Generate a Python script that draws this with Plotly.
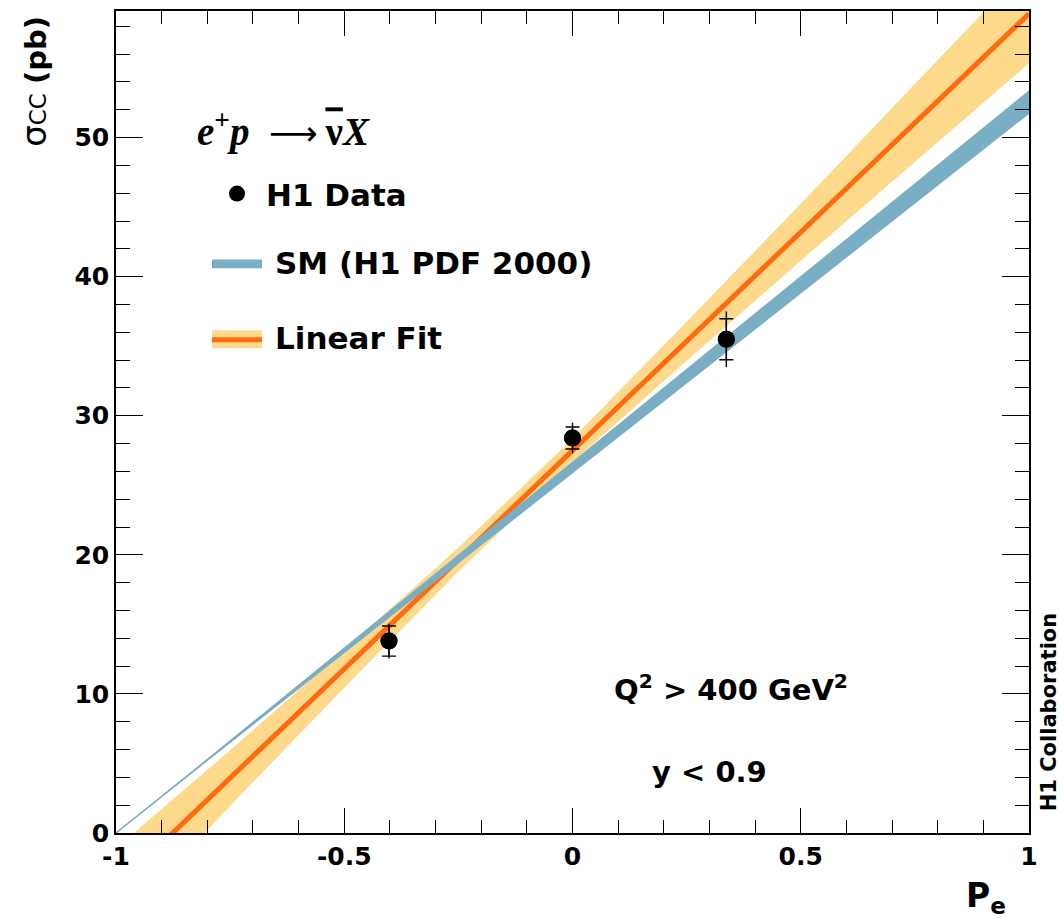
import plotly.graph_objects as go

# ---- measured charged-current cross sections vs. lepton beam polarisation ----
pol = [-0.402, 0.0, 0.337]
sigma = [13.8, 28.4, 35.5]
err_stat = [1.08, 0.79, 1.47]
err_tot = [1.25, 1.10, 2.00]

# ---- Standard Model expectation (H1 PDF 2000), band edges ----
sm_pol = [-1.0, 1.0]
sm_lo = [0.0, 51.7]
sm_hi = [0.0, 53.4]
sm_mid = [0.0, 52.55]

# ---- linear fit to the data and its one-sigma band ----
fit_pol = [-1.0, 1.0]
fit_val = [-3.9, 58.9]
band_pol = [-1.0, -0.75, -0.5, -0.25, 0.0, 0.25, 0.5, 0.75, 1.0]
band_lo = [-6.7, 1.95, 10.45, 18.8, 26.65, 33.95, 41.15, 48.25, 55.35]
band_hi = [-1.1, 5.95, 13.15, 20.5, 28.35, 36.75, 45.25, 53.85, 62.45]

# ---- axis ticks ----
x_ticks = [-1, -0.5, 0, 0.5, 1]
x_tick_text = ["-1", "-0.5", "0", "0.5", "1"]
y_ticks = [0, 10, 20, 30, 40, 50]
y_tick_text = ["0", "10", "20", "30", "40", "50"]

YELLOW = "#FDD98B"
ORANGE = "#FF6A0E"
BLUE = "#79AEC4"
SANS = "DejaVu Sans"
SERIF = "Liberation Serif"

W, H = 1060, 918
L, R, T, B = 116, 31, 9, 85
PW, PH = W - L - R, H - T - B


def px(x):
    return (x - L) / PW


def py(y):
    return (H - B - y) / PH


fig = go.Figure()

# fit uncertainty band
fig.add_trace(go.Scatter(
    x=band_pol + band_pol[::-1],
    y=band_hi + band_lo[::-1],
    fill="toself", fillcolor=YELLOW, mode="lines",
    line=dict(width=0, color=YELLOW), hoverinfo="skip", showlegend=False,
))
# fit central line
fig.add_trace(go.Scatter(
    x=fit_pol, y=fit_val, mode="lines",
    line=dict(color=ORANGE, width=5), showlegend=False,
))
# SM band
fig.add_trace(go.Scatter(
    x=sm_pol + sm_pol[::-1],
    y=sm_hi + sm_lo[::-1],
    fill="toself", fillcolor=BLUE, mode="lines",
    line=dict(width=0, color=BLUE), hoverinfo="skip", showlegend=False,
))
fig.add_trace(go.Scatter(
    x=sm_pol, y=sm_mid, mode="lines",
    line=dict(color=BLUE, width=1.6), showlegend=False,
))
# data: total errors (plain line) and statistical errors (with ticks)
fig.add_trace(go.Scatter(
    x=pol, y=sigma, mode="markers",
    marker=dict(size=17, color="black"),
    error_y=dict(type="data", array=err_tot, color="black", thickness=1.4, width=0),
    showlegend=False,
))
fig.add_trace(go.Scatter(
    x=pol, y=sigma, mode="markers",
    marker=dict(size=17, color="black"),
    error_y=dict(type="data", array=err_stat, color="black", thickness=1.4, width=7),
    showlegend=False,
))

# ---- legend drawn by hand ----
shapes = [
    dict(type="circle", xref="paper", yref="paper",
         x0=px(229), x1=px(245), y0=py(200), y1=py(184),
         fillcolor="black", line=dict(width=0)),
    dict(type="rect", xref="paper", yref="paper",
         x0=px(212), x1=px(262), y0=py(267), y1=py(258),
         fillcolor=BLUE, line=dict(width=0)),
    dict(type="rect", xref="paper", yref="paper",
         x0=px(212), x1=px(262), y0=py(347), y1=py(329),
         fillcolor=YELLOW, line=dict(width=0)),
    dict(type="rect", xref="paper", yref="paper",
         x0=px(212), x1=px(262), y0=py(341), y1=py(336),
         fillcolor=ORANGE, line=dict(width=0)),
]

lab = dict(family=SANS, size=31, color="black", weight="bold")
reaction = ("<b><i>e</i></b><sup><b>+</b></sup><b><i>p</i></b>\u2002"
            "<span style='font-family:DejaVu Sans;font-size:34px'>\u27f6</span>\u2009"
            "<b><span style='text-decoration:overline'>\u03bd</span><i>X</i></b>")
annotations = [
    dict(x=px(195), y=py(128), xref="paper", yref="paper", xanchor="left", yanchor="middle",
         text=reaction, showarrow=False, font=dict(family=SERIF, size=39, color="black")),
    dict(x=px(264), y=py(193), xref="paper", yref="paper", xanchor="left", yanchor="middle",
         text="H1 Data", showarrow=False, font=lab),
    dict(x=px(273), y=py(262), xref="paper", yref="paper", xanchor="left", yanchor="middle",
         text="SM (H1 PDF 2000)", showarrow=False, font=lab),
    dict(x=px(273), y=py(337), xref="paper", yref="paper", xanchor="left", yanchor="middle",
         text="Linear Fit", showarrow=False, font=lab),
    dict(x=px(612), y=py(688), xref="paper", yref="paper", xanchor="left", yanchor="middle",
         text="Q<sup>2</sup> > 400 GeV<sup>2</sup>", showarrow=False,
         font=dict(family=SANS, size=29, color="black", weight="bold")),
    dict(x=px(650), y=py(772), xref="paper", yref="paper", xanchor="left", yanchor="middle",
         text="y < 0.9", showarrow=False,
         font=dict(family=SANS, size=29, color="black", weight="bold")),
    dict(x=px(1049), y=py(712), xref="paper", yref="paper", xanchor="center", yanchor="middle",
         text="H1 Collaboration", textangle=-90, showarrow=False,
         font=dict(family=SANS, size=21, color="black", weight="bold")),
    dict(x=px(1008), y=py(898), xref="paper", yref="paper", xanchor="right", yanchor="middle",
         text="P<sub>e</sub>", showarrow=False,
         font=dict(family=SANS, size=33, color="black", weight="bold")),
    dict(x=px(34), y=py(80), xref="paper", yref="paper", xanchor="center", yanchor="middle",
         text="<span style='font-weight:normal'><span style='font-size:34px'>\u03c3</span>"
              "<span style='font-size:23px'>CC</span></span> <b>(pb)</b>",
         textangle=-90, showarrow=False,
         font=dict(family=SANS, size=29, color="black")),
]

axis_common = dict(
    showline=True, linecolor="black", linewidth=1.6, mirror="ticks",
    ticks="inside", tickcolor="black", tickwidth=1.4,
    showgrid=False, zeroline=False,
    tickfont=dict(family=SANS, size=25, color="black", weight="bold"),
)

fig.update_layout(
    width=W, height=H,
    margin=dict(l=L, r=R, t=T, b=B),
    paper_bgcolor="white", plot_bgcolor="white",
    shapes=shapes, annotations=annotations,
    xaxis=dict(range=[-1, 1], tickmode="array", tickvals=x_ticks, ticktext=x_tick_text,
               ticklen=25,
               minor=dict(tickmode="linear", tick0=-1, dtick=0.1, ticklen=13,
                          tickwidth=1.4, tickcolor="black", ticks="inside"),
               **axis_common),
    yaxis=dict(range=[0, 59.1], tickmode="array", tickvals=y_ticks, ticktext=y_tick_text,
               ticklen=27,
               minor=dict(tickmode="linear", tick0=0, dtick=2, ticklen=14,
                          tickwidth=1.4, tickcolor="black", ticks="inside"),
               **axis_common),
)

fig.write_html("out.html")
